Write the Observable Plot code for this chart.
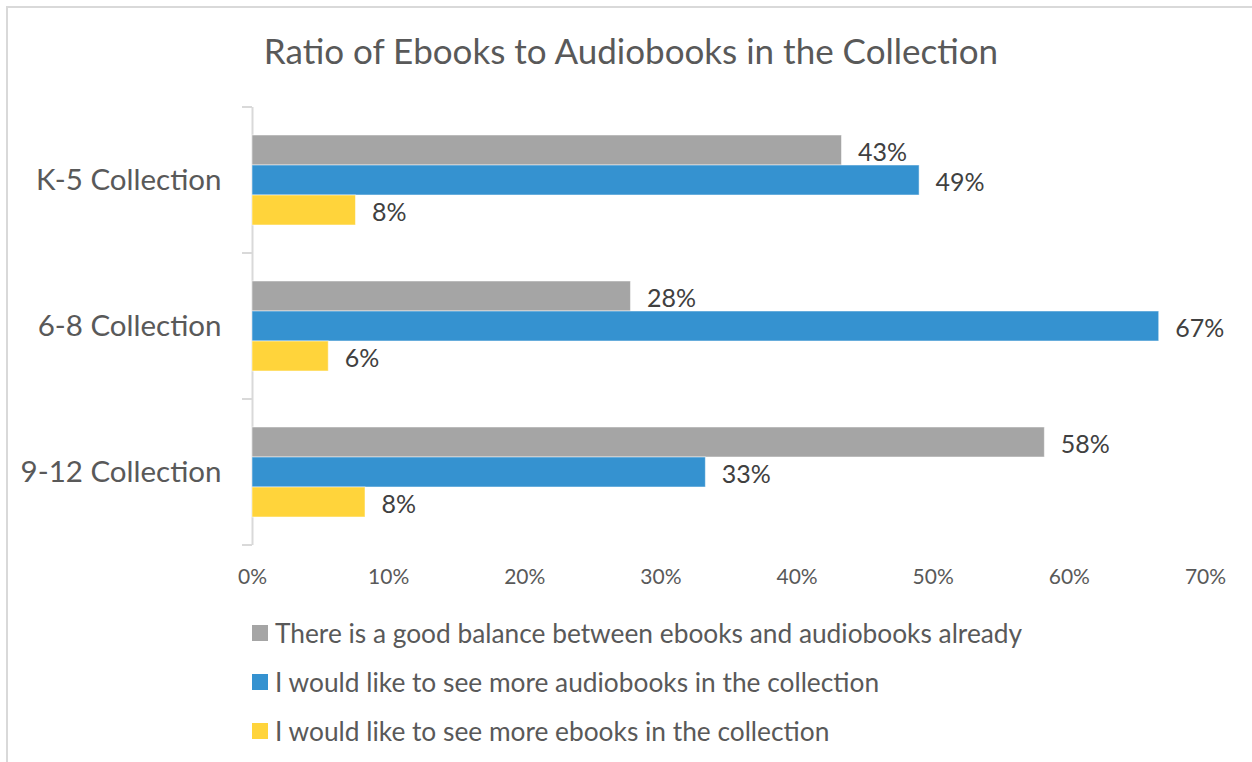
<!DOCTYPE html>
<html>
<head>
<meta charset="utf-8">
<script src="https://cdn.jsdelivr.net/npm/d3@7"></script>
<script src="https://cdn.jsdelivr.net/npm/@observablehq/plot@0.6"></script>
<style>
  html, body { margin: 0; padding: 0; background: #fff; }
  body { width: 1252px; height: 762px; overflow: hidden; position: relative; font-family: Lato, "Open Sans", sans-serif; }
  #frame { position: absolute; left: 6px; top: 6px; right: -20px; bottom: -20px; border-left: 2px solid #d9d9d9; border-top: 2px solid #d9d9d9; }
  #title { position: absolute; left: 0; width: 1262px; top: 27px; text-align: center; font-size: 35px; color: #595959; line-height: 46px; }
  #chart { position: absolute; left: 0; top: 0; }
  #legend { position: absolute; left: 252px; top: 608px; }
  .item { display: flex; align-items: center; height: 49.3px; font-size: 26.3px; color: #595959; white-space: nowrap; }
  .sw { width: 16px; height: 16px; margin-right: 7px; flex: none; }
</style>
</head>
<body>
<div id="frame"></div>
<div id="title">Ratio of Ebooks to Audiobooks in the Collection</div>
<div id="chart"></div>
<div id="legend"></div>
<script>
const groups = ["K-5 Collection", "6-8 Collection", "9-12 Collection"];
const series = [
  "There is a good balance between ebooks and audiobooks already",
  "I would like to see more audiobooks in the collection",
  "I would like to see more ebooks in the collection"
];
const colors = ["#a5a5a5", "#3592d0", "#ffd43b"];
const balanceValues   = [0.433, 0.278, 0.582];
const audiobookValues = [0.490, 0.666, 0.333];
const ebookValues     = [0.076, 0.056, 0.083];
const xTicks = [0, 0.1, 0.2, 0.3, 0.4, 0.5, 0.6, 0.7];

const seriesValues = [balanceValues, audiobookValues, ebookValues];
const rows = [];
groups.forEach((g, gi) => series.forEach((s, si) => rows.push({group: g, series: s, value: seriesValues[si][gi]})));

const pct = d3.format(".0%");

const chart = Plot.plot({
  width: 1252,
  height: 600,
  marginLeft: 252,
  marginRight: 47,
  marginTop: 106,
  marginBottom: 55,
  style: {fontFamily: "Lato, 'Open Sans', sans-serif", background: "transparent", overflow: "visible"},
  x: {domain: [0, 0.7]},
  fy: {domain: groups, padding: 0},
  y: {domain: series, paddingInner: 0, paddingOuter: 0.92, axis: null},
  color: {domain: series, range: colors},
  marks: [
    Plot.ruleX([0], {stroke: "#d9d9d9", strokeWidth: 2}),
    Plot.barX(rows, {x: "value", y: "series", fy: "group", fill: "series", stroke: "#ffffff", strokeOpacity: 0.5, strokeWidth: 1}),
    Plot.text(rows, {x: "value", y: "series", fy: "group", text: d => Math.round(d.value * 100) + "%", dx: 16, dy: 2, textAnchor: "start", fontSize: 25, fill: "#404040"}),
    Plot.axisX({ticks: xTicks, tickFormat: pct, tickSize: 0, tickPadding: 24, fontSize: 21, color: "#595959", label: null}),
    Plot.axisFy({anchor: "left", tickSize: 0, tickPadding: 31, fontSize: 29.5, color: "#595959", label: null})
  ]
});

// tick marks at group boundaries on the vertical axis, from Plot's own scales
const fy = chart.scale("fy");
const xs = chart.scale("x");
const x0 = xs.apply(0);
const bounds = groups.map(g => fy.apply(g)).concat([fy.apply(groups[groups.length - 1]) + fy.bandwidth]);
d3.select(chart).append("g")
  .attr("stroke", "#d9d9d9").attr("stroke-width", 2)
  .selectAll("line").data(bounds).join("line")
  .attr("x1", x0 - 10).attr("x2", x0).attr("y1", d => d).attr("y2", d => d);

document.getElementById("chart").appendChild(chart);

const legend = d3.select("#legend");
series.forEach((s, i) => {
  const it = legend.append("div").attr("class", "item");
  it.append("div").attr("class", "sw").style("background", colors[i]);
  it.append("span").text(s);
});
</script>
</body>
</html>
